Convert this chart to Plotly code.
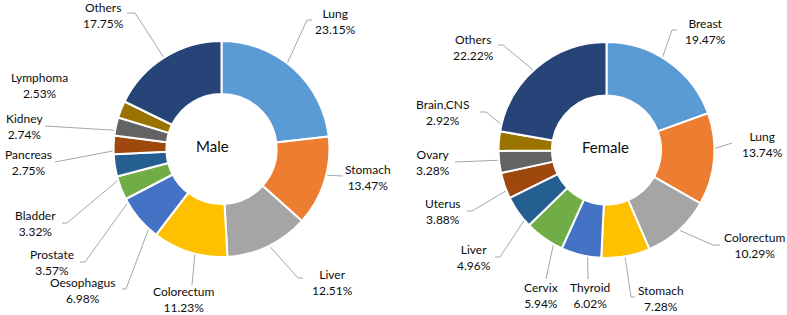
import math
import plotly.graph_objects as go

# ---------------- data ----------------
male_labels = ["Lung", "Stomach", "Liver", "Colorectum", "Oesophagus", "Prostate",
               "Bladder", "Pancreas", "Kidney", "Lymphoma", "Others"]
male_values = [23.15, 13.47, 12.51, 11.23, 6.98, 3.57, 3.32, 2.75, 2.74, 2.53, 17.75]

female_labels = ["Breast", "Lung", "Colorectum", "Stomach", "Thyroid", "Cervix",
                 "Liver", "Uterus", "Ovary", "Brain,CNS", "Others"]
female_values = [19.47, 13.74, 10.29, 7.28, 6.02, 5.94, 4.96, 3.88, 3.28, 2.92, 22.22]

palette = ["#5B9BD5", "#ED7D31", "#A5A5A5", "#FFC000", "#4472C4", "#70AD47",
           "#255E91", "#9E480E", "#636363", "#997300", "#264478"]

# ---------------- layout (pixel positions) ----------------
W, H = 787, 315
FONT = "Lato, 'Open Sans', sans-serif"
TEXT_COLOR = "#0d0d0d"
LINE_COLOR = "#A6A6A6"

male_geo = dict(cx=221.5, cy=149, r=108, hole=0.51, title="Male", tx=212, ty=146)
female_geo = dict(cx=606.5, cy=150, r=108, hole=0.505, title="Female", tx=605, ty=147)

# label centre, leader start points (label side), end radius (px from centre)
male_place = {
    "Lung":       dict(pos=(335, 21),  pts=[(312, 20), (307, 20)], rend=82),
    "Stomach":    dict(pos=(368, 177), pts=[(343, 176)], rend=82),
    "Liver":      dict(pos=(332, 282), pts=[(303, 278), (298, 278)], rend=104),
    "Colorectum": dict(pos=(184, 299), pts=[(192, 285)], rend=82),
    "Oesophagus": dict(pos=(82, 290),  pts=[(122, 289), (126, 289)], rend=82),
    "Prostate":   dict(pos=(52, 262),  pts=[(80, 262), (85, 262)], rend=82),
    "Bladder":    dict(pos=(35, 223),  pts=[(62, 223), (67, 223)], rend=82),
    "Pancreas":   dict(pos=(28, 162),  pts=[(55, 162)], rend=82),
    "Kidney":     dict(pos=(24, 126),  pts=[(45, 126)], rend=82),
    "Lymphoma":   dict(pos=(39, 85),   pts=None, rend=82),
    "Others":     dict(pos=(103, 15),  pts=[(127, 13), (135, 13)], rend=82),
}
female_place = {
    "Breast":     dict(pos=(705, 31),  pts=[(677, 30), (672, 30)], rend=82),
    "Lung":       dict(pos=(762, 144), pts=[(732, 143)], rend=82),
    "Colorectum": dict(pos=(755, 245), pts=[(720, 245), (713, 245)], rend=107),
    "Stomach":    dict(pos=(661, 298), pts=[(635, 297), (631, 297)], rend=82),
    "Thyroid":    dict(pos=(590, 295), pts=[(588, 279)], rend=82),
    "Cervix":     dict(pos=(541, 295), pts=[(546, 279)], rend=82),
    "Liver":      dict(pos=(474, 257), pts=[(495, 257), (500, 257)], rend=82),
    "Uterus":     dict(pos=(443, 211), pts=[(467, 211), (472, 211)], rend=82),
    "Ovary":      dict(pos=(433, 162), pts=[(455, 162)], rend=82),
    "Brain,CNS":  dict(pos=(443, 112), pts=[(480, 112), (486, 112)], rend=82),
    "Others":     dict(pos=(473, 47),  pts=[(498, 45), (503, 45)], rend=82),
}

fig = go.Figure()
annotations = []


def add_donut(labels, values, geo, place):
    cx, cy, r = geo["cx"], geo["cy"], geo["r"]
    fig.add_trace(go.Pie(
        labels=labels, values=values, sort=False, direction="clockwise",
        rotation=0, hole=geo["hole"], textinfo="none", hoverinfo="label+percent",
        marker=dict(colors=palette, line=dict(color="white", width=2)),
        domain=dict(x=[(cx - r) / W, (cx + r) / W],
                    y=[1 - (cy + r) / H, 1 - (cy - r) / H]),
        showlegend=False,
    ))
    total = sum(values)
    cum = 0.0
    lx, ly = [], []
    for lab, v in zip(labels, values):
        mid = (cum + v / 2) / total
        cum += v
        th = 2 * math.pi * mid
        p = place[lab]
        annotations.append(dict(
            x=p["pos"][0], y=p["pos"][1], xref="x", yref="y",
            text=f"{lab}<br>{v:.2f}%", showarrow=False, align="center",
            font=dict(family=FONT, size=12, color=TEXT_COLOR)))
        if p["pts"]:
            ex = cx + p["rend"] * math.sin(th)
            ey = cy - p["rend"] * math.cos(th)
            for (px, py) in p["pts"]:
                lx.append(px); ly.append(py)
            lx.append(ex); ly.append(ey)
            lx.append(None); ly.append(None)
    fig.add_trace(go.Scatter(x=lx, y=ly, mode="lines", hoverinfo="skip",
                             line=dict(color=LINE_COLOR, width=1),
                             showlegend=False, xaxis="x", yaxis="y"))
    annotations.append(dict(
        x=geo["tx"], y=geo["ty"], xref="x", yref="y", text=geo["title"],
        showarrow=False, font=dict(family=FONT, size=15, color=TEXT_COLOR)))


add_donut(male_labels, male_values, male_geo, male_place)
add_donut(female_labels, female_values, female_geo, female_place)

fig.update_layout(
    width=W, height=H,
    margin=dict(l=0, r=0, t=0, b=0),
    paper_bgcolor="white", plot_bgcolor="rgba(0,0,0,0)",
    xaxis=dict(range=[0, W], visible=False, fixedrange=True),
    yaxis=dict(range=[H, 0], visible=False, fixedrange=True),
    annotations=annotations,
    font=dict(family=FONT),
)

fig.write_html("out.html", config={"displayModeBar": False},
               post_script="document.body.style.margin='0';document.body.style.overflow='hidden';")
